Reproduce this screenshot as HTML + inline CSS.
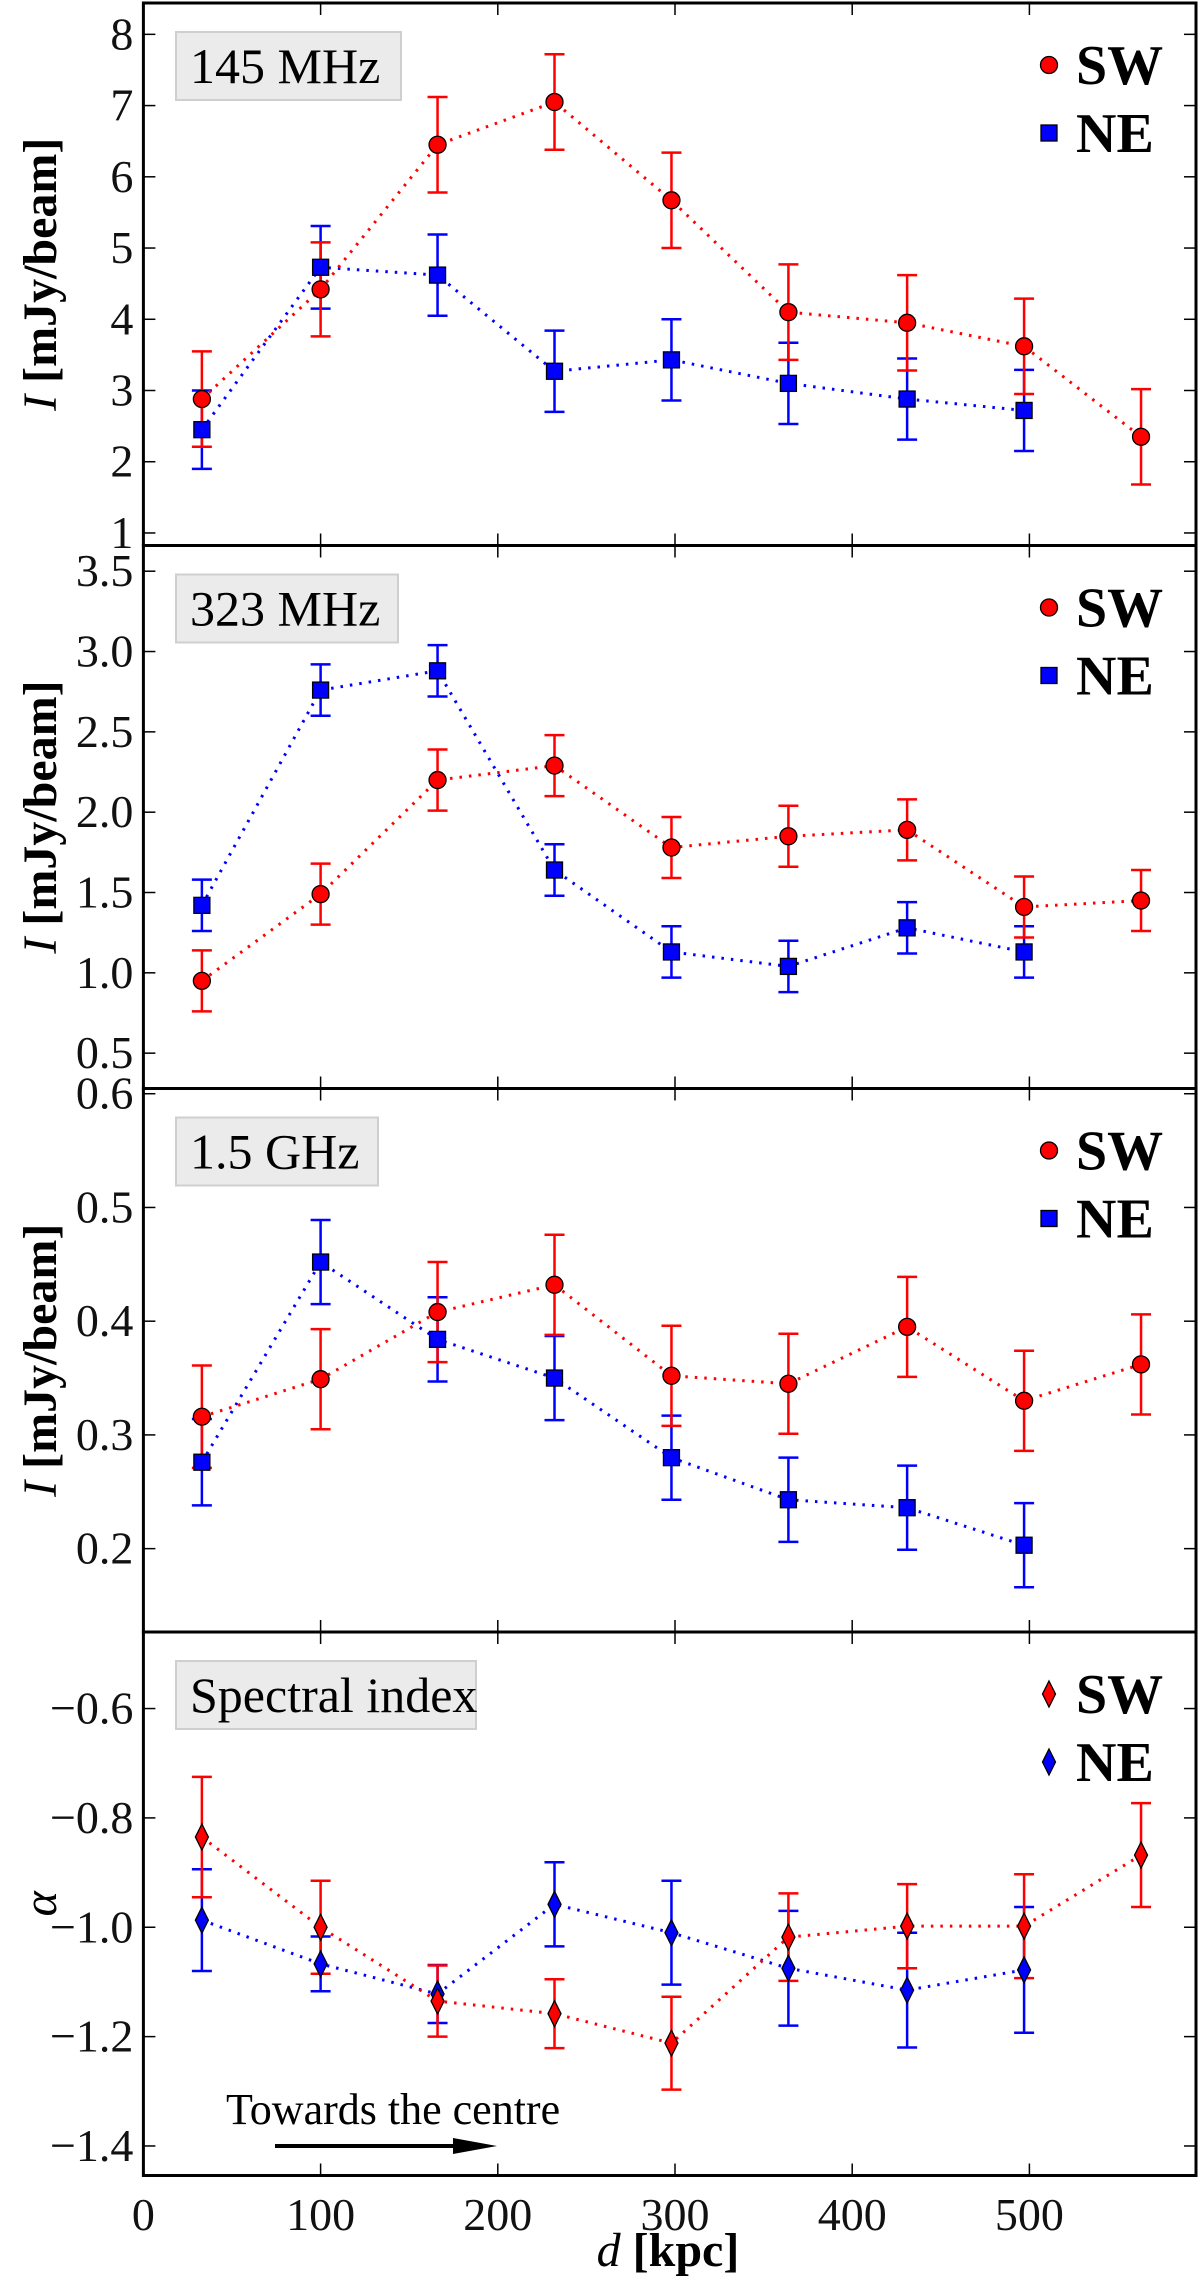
<!DOCTYPE html>
<html><head><meta charset="utf-8"><style>
html,body{margin:0;padding:0;background:#fff;}
svg{display:block;font-family:"Liberation Serif","DejaVu Serif",serif;}
</style></head><body>
<svg id="chart" width="1200" height="2287" viewBox="0 0 1200 2287" xmlns="http://www.w3.org/2000/svg"></svg>
<script>
const distances=[33,100,166,232,298,364,431,497,563];
const sw145=[2.88,4.42,6.45,7.05,5.67,4.10,3.95,3.62,2.35];
const sw145Err=[0.67,0.66,0.67,0.67,0.67,0.67,0.67,0.67,0.67];
const ne145=[2.45,4.73,4.62,3.27,3.43,3.10,2.88,2.72];
const ne145Err=[0.55,0.58,0.57,0.57,0.57,0.57,0.57,0.57];
const sw323=[0.95,1.49,2.20,2.29,1.78,1.85,1.89,1.41,1.45];
const sw323Err=[0.19,0.19,0.19,0.19,0.19,0.19,0.19,0.19,0.19];
const ne323=[1.42,2.76,2.88,1.64,1.13,1.04,1.28,1.13];
const ne323Err=[0.16,0.16,0.16,0.16,0.16,0.16,0.16,0.16];
const sw15=[0.316,0.349,0.408,0.432,0.352,0.345,0.395,0.330,0.362];
const sw15Err=[0.045,0.044,0.044,0.044,0.044,0.044,0.044,0.044,0.044];
const ne15=[0.276,0.452,0.384,0.350,0.280,0.243,0.236,0.203];
const ne15Err=[0.038,0.037,0.037,0.037,0.037,0.037,0.037,0.037];
const swAlpha=[-0.835,-1.0,-1.135,-1.158,-1.212,-1.018,-0.998,-0.998,-0.868];
const swAlphaErr=[0.11,0.085,0.065,0.063,0.085,0.08,0.077,0.095,0.095];
const neAlpha=[-0.987,-1.067,-1.122,-0.958,-1.01,-1.075,-1.115,-1.078];
const neAlphaErr=[0.093,0.05,0.053,0.077,0.095,0.105,0.105,0.115];
const xTicks=[0,100,200,300,400,500];
const ticks145=["1","2","3","4","5","6","7","8"];
const ticks323=["0.5","1.0","1.5","2.0","2.5","3.0","3.5"];
const ticks15=["0.2","0.3","0.4","0.5","0.6"];
const ticksAlpha=["−1.4","−1.2","−1.0","−0.8","−0.6"];
const tickVals145=[1,2,3,4,5,6,7,8];
const tickVals323=[0.5,1.0,1.5,2.0,2.5,3.0,3.5];
const tickVals15=[0.2,0.3,0.4,0.5,0.6];
const tickValsAlpha=[-1.4,-1.2,-1.0,-0.8,-0.6];

const NS="http://www.w3.org/2000/svg";
const svg=document.getElementById('chart');
const L=143.4,R=1196,PX=1.772;
const xS=v=>L+v*PX;
function mk(tag,attrs,parent){const e=document.createElementNS(NS,tag);for(const k in attrs)e.setAttribute(k,attrs[k]);(parent||svg).appendChild(e);return e;}

const panels=[
 {top:3,bot:545.5,ymin:0.824,ymax:8.44,label:"145 MHz",ylab:"I [mJy/beam]",ticks:ticks145,tv:tickVals145,sw:sw145,swE:sw145Err,ne:ne145,neE:ne145Err,marker:["circle","square"],boxW:225},
 {top:545.5,bot:1088.5,ymin:0.28,ymax:3.66,label:"323 MHz",ylab:"I [mJy/beam]",ticks:ticks323,tv:tickVals323,sw:sw323,swE:sw323Err,ne:ne323,neE:ne323Err,marker:["circle","square"],boxW:222},
 {top:1088.5,bot:1632,ymin:0.1267,ymax:0.6046,label:"1.5 GHz",ylab:"I [mJy/beam]",ticks:ticks15,tv:tickVals15,sw:sw15,swE:sw15Err,ne:ne15,neE:ne15Err,marker:["circle","square"],boxW:202},
 {top:1632,bot:2175.5,ymin:-1.454,ymax:-0.46,label:"Spectral index",ylab:"α",ticks:ticksAlpha,tv:tickValsAlpha,sw:swAlpha,swE:swAlphaErr,ne:neAlpha,neE:neAlphaErr,marker:["diamond","diamond"],boxW:300}
];

function drawMarker(g,type,cx,cy,fill,name){
  let m;
  if(type==="circle") m=mk('circle',{cx:cx,cy:cy,r:8.5,fill:fill,stroke:'#000','stroke-width':1.3},g);
  else if(type==="square") m=mk('rect',{x:cx-8,y:cy-8,width:16,height:16,fill:fill,stroke:'#000','stroke-width':1.3},g);
  else m=mk('polygon',{points:`${cx},${cy-13} ${cx+6.5},${cy} ${cx},${cy+13} ${cx-6.5},${cy}`,fill:fill,stroke:'#000','stroke-width':1.3},g);
  
  
}

panels.forEach((p,pi)=>{
  const g=mk('g',{});
  
  
  const yS=v=>p.bot-(v-p.ymin)/(p.ymax-p.ymin)*(p.bot-p.top);
  p.tv.forEach((v,i)=>{
    const y=yS(v);
    mk('line',{x1:L,x2:L+12,y1:y,y2:y,stroke:'#000','stroke-width':1.5},g);
    mk('line',{x1:R-12,x2:R,y1:y,y2:y,stroke:'#000','stroke-width':1.5},g);
    const t=mk('text',{x:L-10,y:y+15,'text-anchor':'end','font-size':46,fill:'#111'},g);
    t.textContent=p.ticks[i];
    
    
  });
  xTicks.forEach(v=>{
    const x=xS(v);
    mk('line',{x1:x,x2:x,y1:p.bot,y2:p.bot-12,stroke:'#000','stroke-width':1.5},g);
    mk('line',{x1:x,x2:x,y1:p.top,y2:p.top+12,stroke:'#000','stroke-width':1.5},g);
  });
  const fr=mk('rect',{x:L,y:p.top,width:R-L,height:p.bot-p.top,fill:'none',stroke:'#000','stroke-width':3},g);
  
  
  const bg=mk('g',{},g);
  
  
  mk('rect',{x:176,y:p.top+29,width:p.boxW,height:68,fill:'#ebebeb',stroke:'#cfcfcf','stroke-width':2},bg);
  const lt=mk('text',{x:190,y:p.top+80,'font-size':50,fill:'#000'},bg);
  lt.textContent=p.label;
  const yl=mk('text',{x:0,y:0,'font-size':48,'text-anchor':'middle',transform:`translate(56,${(p.top+p.bot)/2}) rotate(-90)`},g);
  
  
  if(pi<3){const a=mk('tspan',{'font-style':'italic'},yl);a.textContent="I ";const b=mk('tspan',{'font-weight':'bold'},yl);b.textContent="[mJy/beam]";}
  else{const a=mk('tspan',{'font-style':'italic'},yl);a.textContent="α";}
  const series=[{v:p.ne,e:p.neE,c:'#0000ff',m:p.marker[1],n:'ne'},{v:p.sw,e:p.swE,c:'#ff0000',m:p.marker[0],n:'sw'}];
  series.forEach(s=>{
    const sg=mk('g',{},g);
    
    
    const pts=s.v.map((v,i)=>xS(distances[i])+','+yS(v)).join(' ');
    mk('polyline',{points:pts,fill:'none',stroke:s.c,'stroke-width':3,'stroke-dasharray':'2.5 7','stroke-linecap':'butt'},sg);
    s.v.forEach((v,i)=>{
      const x=xS(distances[i]),y1=yS(v+s.e[i]),y2=yS(v-s.e[i]);
      mk('line',{x1:x,x2:x,y1:y1,y2:y2,stroke:s.c,'stroke-width':2.5},sg);
      mk('line',{x1:x-10,x2:x+10,y1:y1,y2:y1,stroke:s.c,'stroke-width':2.5},sg);
      mk('line',{x1:x-10,x2:x+10,y1:y2,y2:y2,stroke:s.c,'stroke-width':2.5},sg);
    });
  });
  series.forEach(s=>{
    s.v.forEach((v,i)=>drawMarker(g,s.m,xS(distances[i]),yS(v),s.c,s.n+'-point'));
  });
  const lg=mk('g',{},g);
  
  
  drawMarker(lg,p.marker[0],1049,p.top+62,'#ff0000','legend-marker-sw');
  drawMarker(lg,p.marker[1],1049,p.top+130,'#0000ff','legend-marker-ne');
  const t1=mk('text',{x:1076,y:p.top+81,'font-size':56,'font-weight':'bold'},lg);t1.textContent="SW";
  const t2=mk('text',{x:1076,y:p.top+149,'font-size':56,'font-weight':'bold'},lg);t2.textContent="NE";
});

xTicks.forEach(v=>{
  const t=mk('text',{x:xS(v),y:2230,'text-anchor':'middle','font-size':46,fill:'#111'});
  t.textContent=String(v);
  
  
});
const xt=mk('text',{x:668,y:2266,'text-anchor':'middle','font-size':48});


{const a=mk('tspan',{'font-style':'italic'},xt);a.textContent="d ";const b=mk('tspan',{'font-weight':'bold'},xt);b.textContent="[kpc]";}
const an=mk('g',{});


const at=mk('text',{x:226,y:2124,'font-size':44},an);at.textContent="Towards the centre";
mk('line',{x1:275,x2:455,y1:2146,y2:2146,stroke:'#000','stroke-width':4},an);
mk('polygon',{points:"453,2138 497,2146 453,2154",fill:'#000'},an);
</script>
</body></html>
